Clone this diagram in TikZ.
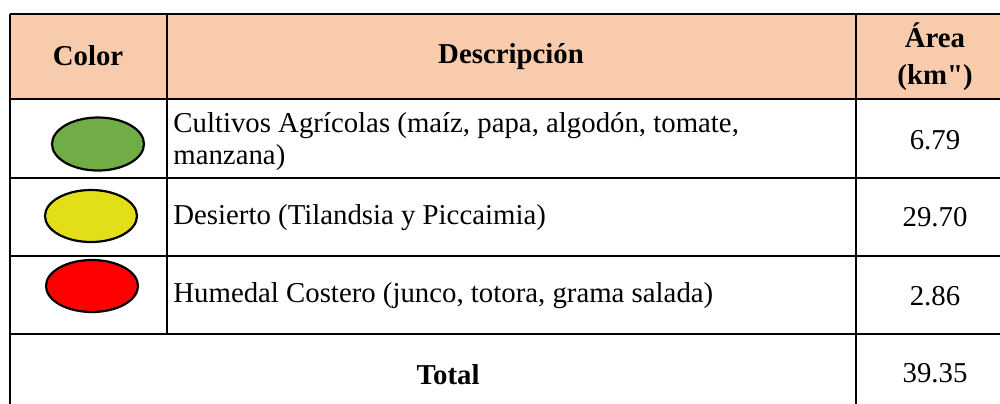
\documentclass[tikz,border=0pt]{standalone}
\usepackage{fontspec}
\setmainfont{Liberation Serif}[Ligatures=TeXOff]
\definecolor{headfill}{HTML}{F8CBAD}
\definecolor{cgreen}{HTML}{70AD47}
\definecolor{cyellow}{HTML}{E2DF18}
\definecolor{cred}{HTML}{FF0000}
\begin{document}
\begin{tikzpicture}[x=0.5pt,y=-0.5pt,
  grid/.style={line width=1.1pt,black},
  txt/.style={inner sep=0pt,font=\fontsize{14.4}{16}\selectfont},
  head/.style={txt,font=\fontsize{14.4}{18.5}\selectfont\bfseries,align=center},
  desc/.style={txt,anchor=west,align=left},
  num/.style={txt}]
\useasboundingbox (0,0) rectangle (1000,403);
\fill[headfill] (10,14) rectangle (1010,99);
% grid
\draw[grid] (10,14) -- (1010,14);
\draw[grid] (10,99) -- (1010,99);
\draw[grid] (10,178) -- (1010,178);
\draw[grid] (10,256) -- (1010,256);
\draw[grid] (10,334) -- (1010,334);
\draw[grid] (10,14) -- (10,410);
\draw[grid] (167,14) -- (167,334);
\draw[grid] (856,14) -- (856,410);
% header
\node[head] (hcolor) at (88,56) {Color};
\node[head] (hdesc) at (511,57) {Descripción};
\node[head] (harea) at (935,57) {Área\\(km")};
% ellipses
\fill[cgreen] (98,144) ellipse [x radius=46, y radius=26.5];
\draw[line width=1.1pt] (98,144) ellipse [x radius=46, y radius=26.5];
\fill[cyellow] (91,216) ellipse [x radius=46, y radius=26];
\draw[line width=1.1pt] (91,216) ellipse [x radius=46, y radius=26];
\fill[cred] (92,286) ellipse [x radius=46, y radius=26];
\draw[line width=1.1pt] (92,286) ellipse [x radius=46, y radius=26];
% descriptions
\node[desc] (d1) at (173,142) {Cultivos Agrícolas (maíz, papa, algodón, tomate,\\manzana)};
\node[desc] (d2) at (173,218) {Desierto (Tilandsia y Piccaimia)};
\node[desc] (d3) at (173,296) {Humedal Costero (junco, totora, grama salada)};
\node[head] (total) at (448,375) {Total};
% numbers
\node[num] (n1) at (935,140) {6.79};
\node[num] (n2) at (935,217) {29.70};
\node[num] (n3) at (935,296) {2.86};
\node[num] (n4) at (935,373) {39.35};
\end{tikzpicture}
\end{document}
